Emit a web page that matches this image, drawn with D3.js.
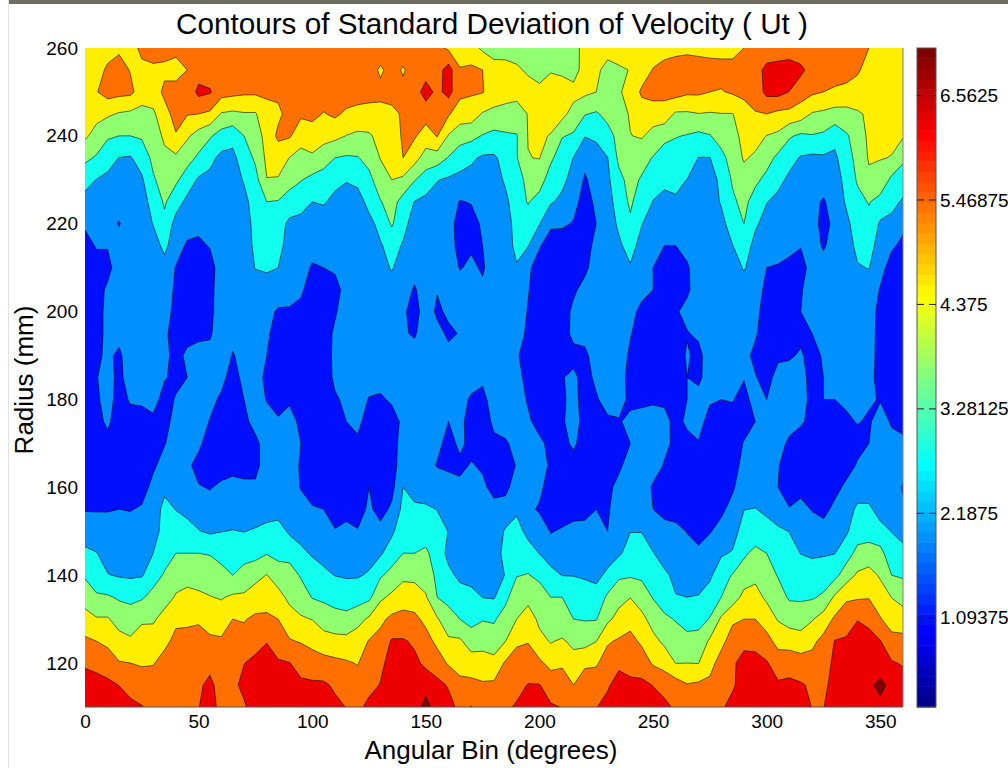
<!DOCTYPE html>
<html>
<head>
<meta charset="utf-8">
<script src="https://cdn.jsdelivr.net/npm/d3@7"></script>
<style>
  body { margin: 0; background: #fff; overflow: hidden; }
  text { font-family: "Liberation Sans", Arial, sans-serif; fill: #000; }
</style>
</head>
<body>
<svg id="chart" width="1008" height="768"></svg>
<script>
// radius of each entry in the columns below, top of the plot first
const radii = [260,255,250,245,240,235,230,225,220,215,210,205,200,195,190,185,180,175,170,165,160,155,150,145,140,135,130,125,120,115,110];
const angleStep = 5;

// std dev of Ut, one array per angular bin
const a000 = [4.9,5.0,5.0,4.8,4.6,3.8,3.0,2.45,1.95,1.6, 1.5,1.4,1.4,1.4,1.4,1.4,1.4,1.4,1.4,1.4, 1.5,1.8,2.3,2.9,3.5,4.1,4.8,5.5,6.1,6.6,6.85];
const a005 = [4.9,5.0,5.3,4.7,4.2,3.5,2.7,2.4,2.1,1.9, 1.6,1.5,1.5,1.5,1.7,1.8,1.7,1.6,1.4,1.4, 1.4,1.8,2.2,2.75,3.2,3.7,4.55,5.35,6.0,6.5,6.8];
const a010 = [5.0,5.5,5.7,4.6,3.7,3.1,2.5,2.3,2.1,1.9, 1.6,2.0,2.1,2.1,2.0,2.2,2.2,2.0,1.6,1.4, 1.5,1.8,2.2,2.4,2.75,3.7,4.55,5.15,5.8,6.4,6.8];
const a015 = [5.2,5.7,5.6,4.4,3.6,2.7,2.4,2.2,1.8,2.2, 2.3,2.3,2.3,2.1,1.7,1.6,1.5,1.4,1.4,1.4, 1.4,1.85,2.3,2.4,2.65,3.5,4.1,4.8,5.4,6.2,6.7];
const a020 = [4.9,5.3,5.55,4.3,3.6,2.65,2.4,2.3,2.3,2.3, 2.3,2.3,2.3,2.3,2.3,2.3,1.95,1.5,1.4,1.4, 1.5,1.8,2.3,2.35,2.6,3.4,4.0,4.6,5.35,5.95,6.4];
const a025 = [5.6,5.1,4.9,4.2,3.7,3.1,2.6,2.3,2.3,2.3, 2.3,2.3,2.3,2.3,2.3,2.3,2.0,1.5,1.4,1.4, 1.5,1.95,2.25,2.35,2.65,3.5,4.35,4.85,5.25,5.85,6.25];
const a030 = [5.7,5.2,5.0,4.3,4.1,3.8,3.5,3.1,2.75,2.4, 2.3,2.3,2.3,2.3,2.3,2.3,2.1,1.7,1.5,1.7, 2.1,2.3,2.3,2.72,3.2,3.9,4.35,4.9,5.3,5.75,6.05];
const a035 = [5.6,5.2,5.5,5.1,4.6,4.3,3.95,3.7,3.4,2.9, 2.45,2.3,2.2,2.0,2.05,1.9,1.6,1.5,1.8,2.2, 2.55,2.95,3.1,3.2,3.7,4.1,4.8,5.15,5.65,5.9,6.1];
const a040 = [5.6,5.0,5.7,5.6,5.3,4.3,3.75,3.1,2.4,2.3, 1.8,1.7,1.6,1.5,1.6,1.7,1.9,2.2,2.3,2.3, 2.3,2.7,3.1,3.6,4.1,4.55,5.2,5.55,5.85,6.05,6.1];
const a045 = [5.6,5.35,5.6,5.4,4.6,3.9,3.2,2.5,2.3,1.7, 1.4,1.4,1.4,1.6,2.0,1.85,2.3,2.3,2.3,2.0, 2.3,2.55,2.95,3.6,4.2,4.7,5.2,5.6,5.85,6.05,6.1];
const a050 = [5.8,5.8,6.45,5.35,4.1,3.45,2.6,2.3,2.05,1.7, 1.4,1.4,1.5,1.7,2.1,2.3,2.3,2.3,2.0,1.6, 1.9,2.35,2.75,3.6,4.05,4.65,5.25,5.65,5.9,6.1,6.2];
const a055 = [5.8,5.8,6.3,5.2,3.7,2.95,2.5,2.3,2.15,1.9, 1.5,1.6,1.65,1.75,2.1,2.2,2.1,1.8,1.5,1.4, 1.8,2.2,2.6,3.55,4.05,4.5,5.0,5.5,6.0,6.4,6.5];
const a060 = [5.8,5.8,5.7,4.4,3.25,2.5,2.3,2.3,2.3,2.3, 2.3,2.3,2.3,2.3,2.3,2.1,1.7,1.5,1.4,1.5, 2.0,2.3,2.7,3.35,3.85,4.4,4.95,5.45,5.7,5.9,6.0];
const a065 = [5.9,5.9,5.6,4.3,3.0,2.5,2.3,2.3,2.3,2.3, 2.3,2.3,2.3,2.05,1.8,1.5,1.4,1.4,1.4,1.6, 2.1,2.3,2.75,3.1,3.6,4.6,5.35,5.65,5.85,6.0,6.1];
const a070 = [5.9,5.9,5.5,4.4,3.6,3.15,2.8,2.45,2.3,2.3, 2.3,2.3,2.3,2.3,2.1,2.1,1.85,1.6,1.45,1.6, 2.0,2.3,2.7,3.25,3.95,4.6,5.3,5.6,6.2,6.45,6.1];
const a075 = [5.9,5.9,5.5,4.4,3.95,3.75,3.3,3.15,3.0,2.9, 2.75,2.3,2.3,2.3,2.3,2.3,2.3,2.2,1.6,1.6, 2.0,2.3,2.8,3.3,4.2,4.9,5.5,5.95,6.4,6.6,6.7];
const a080 = [5.9,5.9,5.5,5.05,4.85,4.65,4.45,3.6,3.35,3.55, 2.85,2.3,2.1,2.0,1.85,1.6,1.8,2.2,2.3,2.3, 2.3,2.45,2.9,3.55,4.5,5.0,5.5,6.2,6.4,6.6,6.7];
const a085 = [5.9,5.8,5.5,5.2,5.5,4.9,4.4,3.55,3.15,3.05, 2.72,2.3,1.75,1.45,1.4,1.4,1.5,1.95,2.3,2.3, 2.3,2.4,3.05,3.4,3.95,4.85,5.35,5.85,6.3,6.6,6.7];
const a090 = [5.9,5.9,5.9,5.6,5.45,4.45,3.85,3.3,2.5,2.3, 2.3,2.2,1.75,1.5,1.4,1.5,1.75,2.1,2.3,2.3, 2.3,2.4,2.6,3.25,4.05,4.2,4.95,5.4,6.25,6.6,6.7];
const a095 = [5.9,5.9,5.8,5.5,4.8,4.2,3.65,3.0,2.5,2.3, 2.25,2.0,1.6,1.4,1.4,1.4,1.5,1.7,1.85,1.75, 1.8,2.2,2.5,2.85,3.5,4.1,4.55,5.3,5.85,6.4,6.6];
const a100 = [5.9,5.9,5.7,5.6,4.9,4.35,3.35,2.72,2.4,2.2, 1.75,1.4,1.4,1.4,1.4,1.4,1.4,1.4,1.4,1.4, 1.4,1.95,2.3,2.65,3.05,3.55,4.45,5.1,5.75,6.35,6.6];
const a105 = [5.9,5.9,5.8,5.3,4.8,3.95,3.25,2.8,2.3,2.25, 1.85,1.45,1.4,1.4,1.4,1.4,1.4,1.4,1.4,1.4, 1.4,1.85,2.25,2.45,2.9,3.45,4.05,4.85,5.65,6.35,6.5];
const a110 = [5.9,5.9,5.9,5.5,4.7,3.6,2.95,2.5,2.3,2.3, 2.0,1.5,1.75,2.0,2.05,2.0,1.75,1.45,1.4,1.4, 1.4,1.5,1.9,2.35,2.7,3.3,3.9,4.75,5.55,6.1,6.4];
const a115 = [5.9,5.9,5.8,5.2,4.45,3.5,2.75,2.5,2.3,2.2, 2.0,2.2,2.3,2.3,2.3,2.3,2.0,1.85,1.5,1.4, 1.4,1.6,2.05,2.45,2.65,3.1,3.9,4.7,5.45,5.85,6.2];
const a120 = [5.9,5.9,5.7,5.1,4.3,3.55,2.9,2.4,2.3,2.3, 2.3,2.3,2.3,2.3,2.3,2.3,2.25,2.05,1.7,1.45, 1.4,1.5,1.9,2.3,2.65,3.2,4.2,4.9,5.3,5.75,6.05];
const a125 = [5.9,5.8,5.6,5.1,4.35,3.9,3.35,2.95,2.5,2.3, 2.3,2.3,2.3,2.3,2.3,2.2,1.8,1.5,1.4,1.4, 1.85,2.0,2.35,2.45,2.8,3.4,4.6,5.4,5.85,6.0,6.4];
const a130 = [5.9,5.2,5.6,5.05,4.75,4.5,4.1,3.55,2.95,2.65, 2.4,2.3,2.3,2.3,2.3,2.1,1.75,1.45,1.4,1.45, 1.45,1.55,2.1,2.6,3.5,4.3,5.15,5.65,6.05,6.25,6.3];
const a135 = [5.8,5.7,5.5,5.25,4.75,4.55,4.47,3.95,3.7,3.0, 2.8,2.3,2.3,2.3,2.3,2.25,1.95,1.55,1.4,1.5, 1.6,2.0,2.55,3.2,3.85,4.65,5.55,6.3,6.5,6.6,6.7];
const a140 = [5.9,5.25,5.6,5.4,5.5,5.35,4.3,3.25,2.95,2.65, 2.3,2.3,2.0,1.95,2.2,2.2,1.9,2.0,2.3,2.3, 2.72,2.95,3.3,3.6,4.25,5.0,5.6,6.3,6.5,6.6,6.7];
const a145 = [5.9,5.8,5.8,5.7,5.45,4.8,3.65,2.7,2.4,2.3, 2.2,1.75,1.5,1.75,2.2,2.3,2.3,2.3,2.3,2.3, 2.45,2.85,3.1,3.6,4.25,4.9,5.55,6.1,6.4,6.5,6.6];
const a150 = [5.9,5.8,6.6,5.7,4.95,4.1,3.2,2.5,2.3,2.3, 2.3,2.3,2.3,2.3,2.3,2.3,2.3,2.3,2.3,2.2, 2.3,2.85,3.2,3.75,4.1,4.55,5.15,5.65,6.05,6.7,7.2];
const a155 = [5.6,5.85,6.0,5.65,5.4,4.05,2.75,2.45,2.3,2.3, 2.3,1.9,1.7,2.1,2.3,2.3,2.3,2.3,2.05,1.8, 2.3,2.7,3.0,3.2,3.4,3.6,4.55,5.15,5.75,6.45,6.6];
const a160 = [5.2,6.6,6.5,5.45,4.4,3.55,2.6,2.3,2.3,2.3, 2.3,2.1,2.0,1.7,2.1,2.25,2.2,1.85,1.6,1.7, 2.2,2.3,2.7,2.5,2.9,3.35,3.95,4.6,5.25,6.15,6.45];
const a165 = [5.0,5.4,5.6,4.85,4.05,3.0,2.55,1.8,1.4,1.5, 1.8,2.2,2.2,1.9,2.3,2.3,2.25,2.1,2.0,1.7, 2.0,2.3,2.3,2.35,2.55,3.05,3.6,4.6,5.0,5.6,6.05];
const a170 = [4.85,5.5,5.45,4.9,3.85,2.85,2.45,1.9,1.5,1.75, 2.0,2.15,2.3,2.3,2.3,2.3,1.7,1.45,1.65,1.9, 2.0,2.0,2.3,2.35,2.4,3.0,3.35,4.0,4.95,5.55,6.25];
const a175 = [4.3,5.35,5.4,4.4,3.55,2.6,2.3,2.2,2.0,1.85, 1.75,2.0,2.3,2.3,2.3,1.95,1.7,1.6,1.7,1.75, 2.0,2.2,2.3,2.3,2.4,2.7,3.55,4.15,4.85,5.45,5.9];
const a180 = [4.0,4.9,4.85,4.3,3.35,2.6,2.3,2.3,2.3,2.3, 2.3,2.3,2.3,2.3,2.3,2.2,2.1,1.95,1.75,1.5, 1.6,2.1,2.3,2.3,2.4,2.65,3.5,4.0,4.75,5.5,5.95];
const a185 = [4.2,4.7,4.9,4.1,3.5,3.0,2.85,2.5,2.2,2.3, 2.3,2.3,2.3,2.3,2.3,2.3,2.3,2.2,1.75,1.5, 1.6,2.25,2.8,3.0,2.75,3.35,4.0,4.45,5.45,5.85,6.1];
const a190 = [4.1,4.6,4.7,4.15,3.55,3.55,3.3,3.25,3.15,2.95, 2.65,2.3,2.3,2.3,1.95,2.2,2.3,2.3,2.1,1.9, 2.3,2.6,3.0,3.3,3.55,4.2,4.47,5.2,5.75,6.0,6.3];
const a195 = [4.1,4.35,4.8,4.5,4.5,4.45,3.8,3.65,3.25,2.75, 1.95,1.9,1.8,1.65,1.45,1.5,1.75,2.0,2.25,2.3, 2.15,2.05,2.5,3.05,3.65,4.15,5.0,5.3,5.8,6.25,6.25];
const a200 = [4.1,4.1,4.7,4.85,4.65,4.5,3.95,3.3,2.75,1.9, 1.6,1.4,1.4,1.4,1.4,1.4,1.4,1.5,2.05,2.25, 2.05,1.75,2.3,2.7,3.35,4.15,4.25,4.75,5.5,6.25,6.3];
const a205 = [4.1,4.4,4.9,5.0,4.4,3.75,3.2,2.8,1.95,1.55, 1.4,1.4,1.4,1.4,1.4,1.4,1.4,1.45,1.6,1.7, 1.45,1.4,1.8,2.3,3.0,3.6,3.95,4.4,5.1,5.85,6.3];
const a210 = [4.1,4.3,4.9,4.75,3.65,3.15,2.9,2.55,1.95,1.5, 1.4,1.4,1.4,1.4,1.4,1.8,1.7,1.75,1.6,1.4, 1.4,1.4,1.95,2.35,2.7,3.6,3.65,4.6,5.2,5.85,6.2];
const a215 = [4.0,4.05,4.8,4.1,3.5,2.7,2.45,2.1,1.8,1.45, 1.4,1.7,2.05,2.1,1.55,2.05,2.15,2.2,2.0,1.5, 1.4,1.55,2.1,2.35,2.7,3.15,3.6,4.2,4.9,5.35,5.95];
const a220 = [4.9,4.9,4.65,3.65,2.75,2.1,1.75,1.55,1.7,1.5, 1.65,2.15,2.3,2.15,1.65,1.5,1.45,1.55,1.45,1.4, 1.4,1.6,2.1,2.4,2.65,3.0,3.55,4.15,5.2,5.8,6.05];
const a225 = [4.9,4.7,4.47,3.5,2.85,2.4,2.2,2.0,1.85,2.1, 2.3,2.3,2.3,2.3,2.3,2.05,1.75,1.45,1.45,1.45, 1.5,1.85,2.15,2.45,2.5,3.05,3.55,4.45,5.25,5.8,6.2];
const a230 = [4.9,4.1,3.95,3.85,3.3,2.7,2.55,2.4,2.35,2.3, 2.3,2.3,2.3,2.3,2.3,2.3,2.2,1.7,1.6,1.55, 1.65,1.75,1.85,2.35,2.9,3.75,4.3,5.25,5.75,6.15,6.4];
const a235 = [4.9,4.35,4.4,4.15,3.85,3.8,3.35,3.1,2.85,2.6, 2.3,2.3,2.3,2.3,2.3,2.3,2.1,1.8,1.6,1.7, 2.1,2.3,2.3,2.6,3.45,4.2,4.75,5.45,6.1,6.45,6.5];
const a240 = [4.9,4.5,4.7,4.55,4.45,4.15,3.9,3.75,3.45,3.0, 2.65,2.25,2.15,1.9,1.7,1.5,1.7,2.0,1.85,2.2, 2.3,2.3,2.7,3.05,3.5,4.45,5.05,5.6,6.0,6.35,6.55];
const a245 = [4.9,4.85,5.5,4.9,4.55,3.95,3.5,3.1,2.75,2.45, 2.1,2.15,1.6,1.5,1.45,1.5,1.7,2.1,2.3,2.3, 2.3,2.4,2.7,3.05,3.45,4.05,4.7,5.2,5.8,6.4,6.5];
const a250 = [4.9,5.4,5.7,4.85,4.2,3.55,2.95,2.7,2.4,2.2, 1.85,1.85,1.55,1.4,1.4,1.4,1.75,2.15,2.3,2.2, 1.75,1.85,2.3,2.75,3.2,3.55,4.15,4.7,5.25,6.2,6.5];
const a255 = [5.0,5.65,5.65,4.9,3.95,2.95,2.9,2.5,2.3,1.85, 1.45,1.4,1.4,1.4,1.4,1.45,1.7,2.1,2.0,1.8, 1.5,1.55,2.2,2.4,2.85,3.2,3.75,4.3,5.0,5.95,6.4];
const a260 = [5.1,5.75,5.7,4.35,3.65,3.15,2.95,2.6,2.3,1.85, 1.4,1.45,1.75,1.6,1.4,1.5,1.65,1.6,1.7,1.5, 1.4,1.4,2.15,2.35,2.55,2.75,3.55,3.95,4.45,5.75,6.1];
const a265 = [5.15,5.8,5.5,4.35,3.55,3.3,2.7,2.3,2.3,2.1, 1.75,1.7,2.1,1.8,1.95,1.85,1.85,2.0,1.6,1.4, 1.4,1.45,1.8,2.3,2.45,2.72,3.15,3.95,4.47,5.4,5.85];
const a270 = [5.1,5.75,5.5,4.45,3.4,2.7,2.35,2.3,2.3,2.3, 2.3,2.3,2.3,2.0,1.6,1.7,2.1,2.15,1.8,1.7, 1.45,1.4,1.5,2.05,2.45,2.75,3.3,3.9,4.45,5.5,5.95];
const a275 = [5.05,5.7,5.35,4.4,3.55,2.7,2.3,2.3,2.3,2.3, 2.3,2.3,2.3,2.3,2.3,2.2,1.95,1.55,1.4,1.4, 1.4,1.4,1.8,2.25,2.55,3.15,3.65,4.6,5.05,5.55,6.05];
const a280 = [5.05,5.65,5.3,4.45,3.95,3.35,2.95,2.8,2.45,2.3, 2.3,2.3,2.3,2.3,2.3,2.1,1.85,1.45,1.4,1.4, 1.4,1.7,2.1,2.6,3.3,3.6,4.6,5.1,5.7,6.05,6.1];
const a285 = [5.0,5.7,5.45,4.45,4.2,3.95,3.7,3.45,3.15,2.7, 2.3,2.3,2.3,2.3,2.3,2.05,1.9,1.55,1.4,1.45, 1.75,2.1,2.3,2.8,3.65,4.05,5.2,5.75,6.1,6.1,6.5];
const a290 = [5.35,5.7,5.65,4.8,4.7,4.55,4.15,3.85,3.6,3.15, 2.8,2.3,2.3,2.3,2.1,1.9,1.55,1.5,1.9,2.15, 2.3,2.7,3.15,3.45,4.05,4.7,5.35,6.0,6.5,6.6,6.7];
const a295 = [5.5,5.8,5.7,5.3,4.75,4.35,3.8,3.2,2.85,2.45, 2.3,2.3,2.1,1.95,1.65,1.9,2.2,1.85,2.25,2.3, 2.3,2.75,3.05,3.85,4.25,4.8,5.35,6.0,6.45,6.6,6.7];
const a300 = [5.6,6.5,6.45,5.35,4.45,3.95,3.35,2.75,2.4,2.2, 1.85,1.6,1.45,1.4,1.4,1.55,1.85,2.3,2.3,2.3, 2.4,2.55,3.05,3.6,3.95,4.3,5.0,5.6,6.3,6.45,6.55];
const a305 = [5.65,6.6,6.5,5.15,4.3,3.4,2.95,2.5,2.3,2.1, 1.8,1.45,1.4,1.4,1.7,2.15,2.25,2.3,2.15,1.9, 1.85,2.3,2.85,3.25,3.55,3.95,4.4,5.1,5.75,6.35,6.5];
const a310 = [5.7,6.7,6.2,5.1,3.7,3.0,2.55,2.3,2.3,1.95, 1.75,1.45,1.4,1.5,1.75,2.2,2.3,2.15,1.7,1.45, 1.4,1.9,2.7,3.0,3.3,3.5,4.1,5.0,5.85,6.4,6.5];
const a315 = [5.7,6.4,5.75,4.9,3.45,2.65,2.3,2.3,2.15,1.9, 1.45,1.8,1.85,1.65,1.95,2.2,2.2,1.95,1.5,1.4, 1.6,2.1,2.35,2.7,3.15,3.5,4.0,4.9,5.7,6.3,6.5];
const a320 = [5.75,5.9,5.5,4.4,3.55,2.55,2.3,2.1,2.15,2.25, 2.25,2.1,2.0,1.85,1.55,1.5,1.6,1.65,1.4,1.4, 1.45,1.8,2.3,2.6,3.1,3.5,4.4,5.15,5.65,6.1,6.2];
const a325 = [5.8,5.8,5.35,4.3,3.45,2.6,2.3,1.75,1.6,1.75, 2.2,2.3,2.3,2.15,1.95,1.85,1.85,1.5,1.4,1.4, 1.4,1.55,2.25,2.65,3.1,3.75,4.85,5.6,5.85,6.0,6.2];
const a330 = [5.85,5.8,5.2,4.15,3.0,2.55,2.3,2.3,2.05,2.2, 2.3,2.3,2.3,2.3,2.3,2.2,1.85,1.6,1.4,1.4, 1.55,2.1,2.35,2.7,3.35,4.6,5.5,6.25,6.4,6.55,6.6];
const a335 = [5.85,5.65,5.15,4.15,3.5,3.25,3.0,2.8,2.55,2.3, 2.3,2.3,2.3,2.3,2.3,2.3,2.0,1.7,1.45,1.45, 2.05,2.3,2.6,3.2,4.05,5.2,5.9,6.3,6.5,6.6,6.65];
const a340 = [5.6,5.5,4.85,4.4,3.95,3.85,3.7,3.35,3.05,2.95, 2.65,2.3,2.3,2.3,2.3,2.2,2.0,1.9,1.55,1.95, 2.25,2.9,3.2,3.85,4.6,5.25,6.2,6.45,6.75,6.65,6.7];
const a345 = [5.35,4.9,4.75,4.55,4.65,4.55,4.3,3.65,3.35,3.1, 2.75,2.3,2.3,2.3,2.3,2.2,1.95,1.75,1.85,2.15, 2.35,2.85,3.35,3.85,4.85,5.3,6.05,6.45,6.6,6.85,6.75];
const a350 = [4.95,4.75,4.7,4.7,4.65,4.5,4.2,3.3,2.6,2.3, 2.1,1.8,1.55,1.5,1.45,1.45,1.8,2.2,2.3,2.3, 2.3,2.45,2.95,3.9,4.35,4.95,5.4,6.25,6.6,7.1,6.8];
const a355 = [4.95,4.7,4.7,4.7,4.6,4.45,3.4,3.0,2.45,1.95, 1.55,1.4,1.4,1.4,1.4,1.4,1.4,1.75,2.1,2.2, 2.15,2.35,2.7,3.0,3.6,4.45,5.0,5.6,6.3,6.8,6.7];
const a360 = [4.9,4.85,4.8,4.75,4.55,3.75,3.2,2.6,2.0,1.7, 1.5,1.4,1.4,1.4,1.4,1.4,1.5,1.7,1.95,2.05, 1.8,1.95,2.45,2.95,3.5,4.15,4.9,5.6,6.15,6.55,6.75];

const columns = [a000,a005,a010,a015,a020,a025,a030,a035,a040,a045,a050,a055,a060,a065,a070,a075,a080,a085,a090,a095,
  a100,a105,a110,a115,a120,a125,a130,a135,a140,a145,a150,a155,a160,a165,a170,a175,a180,a185,a190,a195,
  a200,a205,a210,a215,a220,a225,a230,a235,a240,a245,a250,a255,a260,a265,a270,a275,a280,a285,a290,a295,
  a300,a305,a310,a315,a320,a325,a330,a335,a340,a345,a350,a355,a360];

// contour levels and the flat colour of the band above each one
const levels = [1.85, 2.72, 3.6, 4.47, 5.35, 6.22, 6.95];
const bandColors = ['#0010ff', '#0090ff', '#10ffee', '#90ff70', '#ffee00', '#ff7000', '#ee0000', '#800000'];

const xTicks = [0, 50, 100, 150, 200, 250, 300, 350];
const yTicks = [120, 140, 160, 180, 200, 220, 240, 260];
const colorTicks = [1.09375, 2.1875, 3.28125, 4.375, 5.46875, 6.5625];
const colorDomain = [0.16, 7.06];
const jetStops = ['#00008f', '#0000ff', '#00ffff', '#80ff80', '#ffff00', '#ff0000', '#800000'];
const jetOffsets = [0, 0.11, 0.365, 0.5, 0.625, 0.875, 1];

const svg = d3.select('#chart');
const margin = { left: 85, right: 105, top: 48, bottom: 61 };
const width = +svg.attr('width');
const height = +svg.attr('height');

// window frame of the screenshot
svg.append('rect').attr('x', 8).attr('y', 0).attr('width', width - 8).attr('height', 4).attr('fill', '#6e6e60');
svg.append('rect').attr('x', 8).attr('y', 0).attr('width', 1).attr('height', height).attr('fill', '#e2e2e2');

const xScale = d3.scaleLinear().domain([0, 360]).range([margin.left, width - margin.right]);
const yScale = d3.scaleLinear().domain([110, 260]).range([height - margin.bottom, margin.top]);

svg.append('clipPath').attr('id', 'plot-clip').append('rect')
  .attr('x', margin.left).attr('y', margin.top)
  .attr('width', xScale(360) - margin.left).attr('height', yScale(110) - margin.top);

// d3.contours wants one flat array, row after row
const nx = columns.length;
const ny = radii.length;
const flat = [];
radii.forEach((r, j) => columns.forEach((col) => flat.push(col[j])));

const contours = d3.contours().size([nx, ny]).thresholds(levels)(flat);

// grid cell centres sit at i + 0.5
const toPlot = d3.geoTransform({
  point(x, y) {
    this.stream.point(xScale((x - 0.5) * angleStep), yScale(radii[0] - (y - 0.5) * 5));
  },
});
const path = d3.geoPath(toPlot);

const plot = svg.append('g').attr('clip-path', 'url(#plot-clip)');
plot.append('rect')
  .attr('x', margin.left).attr('y', margin.top)
  .attr('width', xScale(360) - margin.left).attr('height', yScale(110) - margin.top)
  .attr('fill', bandColors[0]);

plot.selectAll('path')
  .data(contours)
  .enter().append('path')
  .attr('d', path)
  .attr('fill', (d, i) => bandColors[i + 1])
  .attr('stroke', '#000')
  .attr('stroke-width', 0.7)
  .attr('stroke-opacity', 0.8)
  .attr('stroke-linejoin', 'round');

// frame, only bottom and right show in the original
svg.append('line').attr('x1', margin.left).attr('x2', xScale(360)).attr('y1', yScale(110)).attr('y2', yScale(110)).attr('stroke', '#555');
svg.append('line').attr('x1', xScale(360)).attr('x2', xScale(360)).attr('y1', margin.top).attr('y2', yScale(110)).attr('stroke', '#808080');

const xAxis = d3.axisBottom(xScale).tickValues(xTicks).tickSize(0).tickPadding(8);
const yAxis = d3.axisLeft(yScale).tickValues(yTicks).tickSize(0).tickPadding(7);

const xAxisG = svg.append('g').attr('transform', `translate(0,${yScale(110)})`).call(xAxis);
const yAxisG = svg.append('g').attr('transform', `translate(${margin.left},0)`).call(yAxis);
xAxisG.select('.domain').remove();
yAxisG.select('.domain').remove();
svg.selectAll('.tick text').style('font-size', '19px').style('font-family', '"Liberation Sans"');

svg.append('text')
  .attr('x', 492).attr('y', 34)
  .attr('text-anchor', 'middle')
  .style('font-size', '29.7px')
  .text('Contours of Standard Deviation of Velocity ( Ut )');

svg.append('text')
  .attr('x', 491).attr('y', 759)
  .attr('text-anchor', 'middle')
  .style('font-size', '26px')
  .text('Angular Bin (degrees)');

svg.append('text')
  .attr('transform', 'translate(33,380) rotate(-90)')
  .attr('text-anchor', 'middle')
  .style('font-size', '26px')
  .text('Radius (mm)');

// colorbar: 64 flat cells of jet
const barX = 917;
const barW = 19;
const barScale = d3.scaleLinear().domain(colorDomain).range([yScale(110), margin.top]);
const jet = d3.scaleLinear().domain(jetOffsets).range(jetStops);
const cells = d3.range(64);
const cellH = (yScale(110) - margin.top) / cells.length;

svg.append('g').selectAll('rect')
  .data(cells)
  .enter().append('rect')
  .attr('x', barX)
  .attr('y', (d) => yScale(110) - (d + 1) * cellH)
  .attr('width', barW)
  .attr('height', cellH + 0.5)
  .attr('fill', (d) => jet(d / 63));

svg.append('rect')
  .attr('x', barX).attr('y', margin.top)
  .attr('width', barW).attr('height', yScale(110) - margin.top)
  .attr('fill', 'none').attr('stroke', '#555');

const barAxis = d3.axisRight(barScale).tickValues(colorTicks).tickFormat((d) => String(d)).tickSize(0).tickPadding(4);
const barAxisG = svg.append('g').attr('transform', `translate(${barX + barW},0)`).call(barAxis);
barAxisG.select('.domain').remove();
barAxisG.selectAll('.tick text').style('font-size', '19px').style('font-family', '"Liberation Sans"');

// tick dashes inside the bar
const dashes = svg.append('g').attr('stroke', '#222').attr('stroke-width', 1);
colorTicks.forEach((t) => {
  dashes.append('line').attr('x1', barX).attr('x2', barX + 7).attr('y1', barScale(t)).attr('y2', barScale(t));
  dashes.append('line').attr('x1', barX + barW - 7).attr('x2', barX + barW).attr('y1', barScale(t)).attr('y2', barScale(t));
});
</script>
</body>
</html>
